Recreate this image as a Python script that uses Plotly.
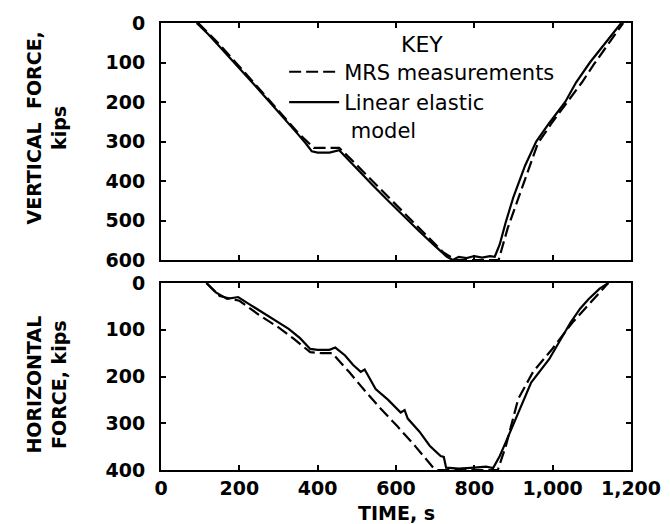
import plotly.graph_objects as go
from plotly.subplots import make_subplots

# Vertical force (kips) vs time (s)
v_model_t = [91,120,150,180,210,240,270,300,330,350,370,385,400,430,455,470,500,540,580,620,660,700,730,745,760,780,800,820,840,852,865,880,900,930,958,990,1032,1060,1095,1135,1175]
v_model_f = [0,28,60,92,125,158,192,225,258,282,305,325,328,328,322,338,370,410,450,490,528,565,592,600,592,595,590,594,590,592,560,505,440,360,300,255,200,150,100,50,0]
v_mrs_t = [95,150,200,250,300,350,390,420,455,480,520,560,600,640,680,720,752,800,850,862,885,920,962,1000,1040,1075,1105,1145,1180]
v_mrs_f = [0,55,110,165,222,278,316,316,316,340,380,420,460,500,540,580,600,600,600,600,520,420,305,250,195,150,105,50,0]

# Horizontal force (kips) vs time (s)
h_model_t = [116,140,169,197,225,252,290,326,355,381,400,430,445,470,490,510,520,548,580,612,622,630,660,686,714,722,728,760,800,830,848,865,880,910,945,991,1020,1046,1070,1092,1120,1142]
h_model_f = [0,20,34,30,45,59,78,98,118,141,143,143,138,155,175,190,185,227,250,277,272,290,318,348,370,372,395,397,395,393,396,370,341,280,213,163,120,84,55,34,12,0]
h_mrs_t = [116,150,200,250,300,340,381,410,437,480,520,560,603,650,695,705,760,820,860,880,912,950,1000,1050,1100,1142]
h_mrs_f = [0,28,38,68,95,120,148,150,150,190,230,268,306,350,395,400,400,400,400,350,248,190,140,85,40,0]

x_ticks = [0,200,400,600,800,1000,1200]
x_labels = ["0","200","400","600","800","1,000","1,200"]
v_ticks = [0,100,200,300,400,500,600]
h_ticks = [0,100,200,300,400]

FONT = "DejaVu Sans"
fig = make_subplots(rows=2, cols=1, shared_xaxes=True, vertical_spacing=0.05)

dash_style = dict(color="black", width=2.2, dash="12px,5px")
solid_style = dict(color="black", width=2.2)

fig.add_trace(go.Scatter(x=v_mrs_t, y=v_mrs_f, mode="lines", name="MRS measurements",
                         line=dash_style), row=1, col=1)
fig.add_trace(go.Scatter(x=v_model_t, y=v_model_f, mode="lines", name="Linear elastic<br>\u00a0model",
                         line=solid_style), row=1, col=1)
fig.add_trace(go.Scatter(x=h_mrs_t, y=h_mrs_f, mode="lines", showlegend=False,
                         line=dash_style), row=2, col=1)
fig.add_trace(go.Scatter(x=h_model_t, y=h_model_f, mode="lines", showlegend=False,
                         line=solid_style), row=2, col=1)

axis_common = dict(showline=True, linecolor="black", linewidth=2, mirror="ticks",
                   ticks="inside", ticklen=5, tickcolor="black", tickwidth=1.5,
                   showgrid=False, zeroline=False, automargin=False,
                   tickfont=dict(family=FONT, size=19, color="black", weight="bold"))

fig.update_xaxes(range=[0,1200], tickvals=x_ticks, ticktext=x_labels, ticklabelstandoff=0,
                 tickangle=0, **axis_common)
fig.update_xaxes(showticklabels=False, row=1, col=1)

fig.update_yaxes(range=[600,0], tickvals=v_ticks, ticklabelstandoff=10, row=1, col=1, **axis_common)
fig.update_yaxes(range=[400,0], tickvals=h_ticks, ticklabelstandoff=10, row=2, col=1, **axis_common)

fig.add_annotation(text="<b>TIME, s</b>", xref="paper", yref="paper",
                   x=0.5, y=-0.096, xanchor="center", yanchor="middle", showarrow=False,
                   font=dict(family=FONT, size=19, color="black"))
fig.add_annotation(text="<b>VERTICAL  FORCE,<br>kips</b>", textangle=-90, xref="paper", yref="paper",
                   x=-0.2436, y=0.765, xanchor="center", yanchor="middle", showarrow=False,
                   font=dict(family=FONT, size=19, color="black"))
fig.add_annotation(text="<b>HORIZONTAL<br>FORCE, kips</b>", textangle=-90, xref="paper", yref="paper",
                   x=-0.2436, y=0.190, xanchor="center", yanchor="middle", showarrow=False,
                   font=dict(family=FONT, size=19, color="black"))

fig.update_layout(
    width=670, height=524,
    margin=dict(l=153, r=47, t=15, b=62),
    paper_bgcolor="white", plot_bgcolor="white",
    yaxis=dict(domain=[0.4698, 1.0]),
    yaxis2=dict(domain=[0.0, 0.4183]),
    legend=dict(x=0.262, y=1.0, xanchor="left", yanchor="top", valign="top",
                bgcolor="rgba(0,0,0,0)", itemwidth=50,
                title=dict(text="KEY", side="top center", font=dict(family=FONT, size=22, color="black")),
                font=dict(family=FONT, size=21, color="black"), tracegroupgap=0),
)

fig.write_html("out.html")
